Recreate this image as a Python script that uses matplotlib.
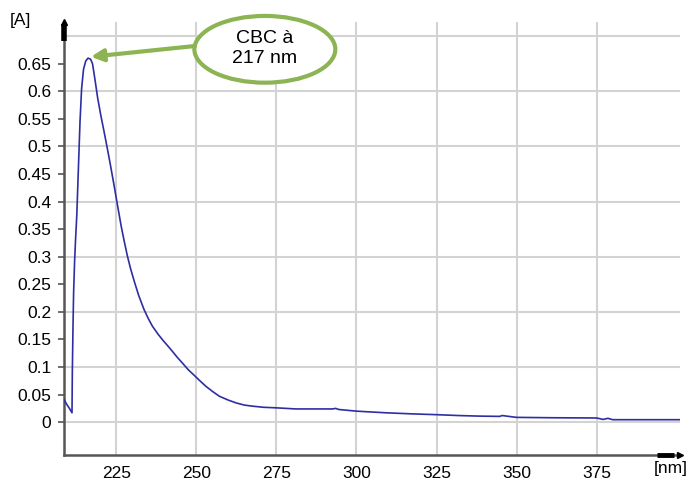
import matplotlib
matplotlib.use("Agg")
import matplotlib.pyplot as plt
from matplotlib.patches import Ellipse

plt.rcParams["font.family"] = ["Liberation Sans", "DejaVu Sans"]

# spectrum
wavelength = [208.8, 209.5, 210.5, 211.2, 211.3, 211.5, 211.7, 212.0, 212.3, 212.7,
              213.2, 213.7, 214.2, 214.8, 215.5, 216.2, 217.0, 217.6, 218.4, 219.2,
              220.2, 221.2, 222.2, 223.2, 224.4, 225.5, 226.5, 227.5, 228.5, 229.5,
              230.6, 232.0, 233.7, 235.0, 236.3, 238.0, 239.5, 241.0, 242.6, 244.0,
              245.7, 247.5, 249.7, 251.5, 253.0, 255.0, 257.2, 260.0, 262.4, 265.0,
              267.6, 271.0, 275.0, 281.0, 287.0, 292.6, 293.5, 294.5, 300.0, 303.0,
              309.3, 317.6, 325.0, 332.0, 338.4, 344.7, 345.5, 350.0, 362.0, 375.0,
              377.0, 378.5, 380.0, 390.0, 401.0]
absorbance = [0.040, 0.033, 0.024, 0.017, 0.090, 0.170, 0.235, 0.290, 0.330, 0.376,
              0.461, 0.545, 0.605, 0.640, 0.655, 0.660, 0.658, 0.650, 0.620, 0.588,
              0.556, 0.527, 0.497, 0.466, 0.427, 0.390, 0.357, 0.328, 0.301, 0.278,
              0.256, 0.230, 0.204, 0.188, 0.174, 0.160, 0.149, 0.139, 0.128, 0.118,
              0.107, 0.095, 0.083, 0.073, 0.065, 0.056, 0.047, 0.040, 0.035, 0.031,
              0.029, 0.027, 0.026, 0.024, 0.024, 0.024, 0.025, 0.023, 0.020, 0.019,
              0.017, 0.015, 0.0136, 0.012, 0.011, 0.0105, 0.012, 0.0087, 0.008, 0.0076,
              0.005, 0.007, 0.0045, 0.0045, 0.0045]

x_ticks = [225, 250, 275, 300, 325, 350, 375]
y_ticks = [0, 0.05, 0.1, 0.15, 0.2, 0.25, 0.3, 0.35, 0.4, 0.45, 0.5, 0.55, 0.6, 0.65]
y_labels = ["0", "0.05", "0.1", "0.15", "0.2", "0.25", "0.3", "0.35", "0.4", "0.45",
            "0.5", "0.55", "0.6", "0.65"]
y_grid = [0, 0.1, 0.2, 0.3, 0.4, 0.5, 0.6, 0.7]

peak_nm = 216.6
peak_abs = 0.6625
note_text = "CBC à\n217 nm"

green = "#8db453"
axis_col = "#555555"
grid_col = "#d3d3d3"

fig = plt.figure(figsize=(6.9, 4.8), dpi=100)
ax = fig.add_axes([64 / 690, 1 - 455 / 480, (680 - 64) / 690, (455 - 22) / 480])

ax.plot(wavelength, absorbance, color="#2e2ea3", linewidth=1.2, zorder=3)

# grid lines, every 0.1 and every 25 nm
for g in y_grid:
    ax.axhline(g, color=grid_col, linewidth=1.5, zorder=0)
for g in x_ticks:
    ax.axvline(g, color=grid_col, linewidth=1.5, zorder=0)

ax.set_xlim(208.7, 401.0)
ax.set_ylim(-0.0595, 0.7255)

ax.set_xticks(x_ticks)
ax.set_yticks(y_ticks)
ax.set_yticklabels(y_labels)
ax.tick_params(axis="y", length=4, width=1.2, color=axis_col, labelsize=12.5, pad=5)
ax.tick_params(axis="x", length=0, labelsize=12.5, pad=8)

for side in ["top", "right"]:
    ax.spines[side].set_visible(False)
for side in ["left", "bottom"]:
    ax.spines[side].set_color(axis_col)
    ax.spines[side].set_linewidth(1.8)

# arrow ends of the axes
ax.plot([0, 0], [0.955, 0.995], transform=ax.transAxes, color="black",
        linewidth=4, clip_on=False, solid_capstyle="butt", zorder=5)
ax.plot([0], [1.0], transform=ax.transAxes, marker="^", markersize=5,
        color="black", clip_on=False, zorder=5)
ax.plot([0.963, 0.99], [0, 0], transform=ax.transAxes, color="black",
        linewidth=3.5, clip_on=False, solid_capstyle="butt", zorder=5)
ax.plot([1.0], [0], transform=ax.transAxes, marker=">", markersize=4,
        color="black", clip_on=False, zorder=5)

fig.text(10 / 690, 1 - 20 / 480, "[A]", fontsize=12.5, va="center", ha="left")
fig.text(671 / 690, 1 - 469 / 480, "[nm]", fontsize=12.5, va="center", ha="center")

# callout
ell = Ellipse((271.4, 0.676), 44.0, 0.121, facecolor="white", edgecolor=green,
              linewidth=3, clip_on=False, zorder=6)
ax.add_patch(ell)
ax.text(271.4, 0.678, note_text, ha="center", va="center", fontsize=14,
        linespacing=1.2, zorder=7, clip_on=False)
ax.annotate("", xy=(peak_nm + 0.5, peak_abs), xytext=(249.6, 0.682),
            arrowprops=dict(arrowstyle="-|>", color=green, linewidth=3,
                            mutation_scale=18, shrinkA=0, shrinkB=0),
            zorder=6, annotation_clip=False)

fig.savefig("out.png", dpi=100)
